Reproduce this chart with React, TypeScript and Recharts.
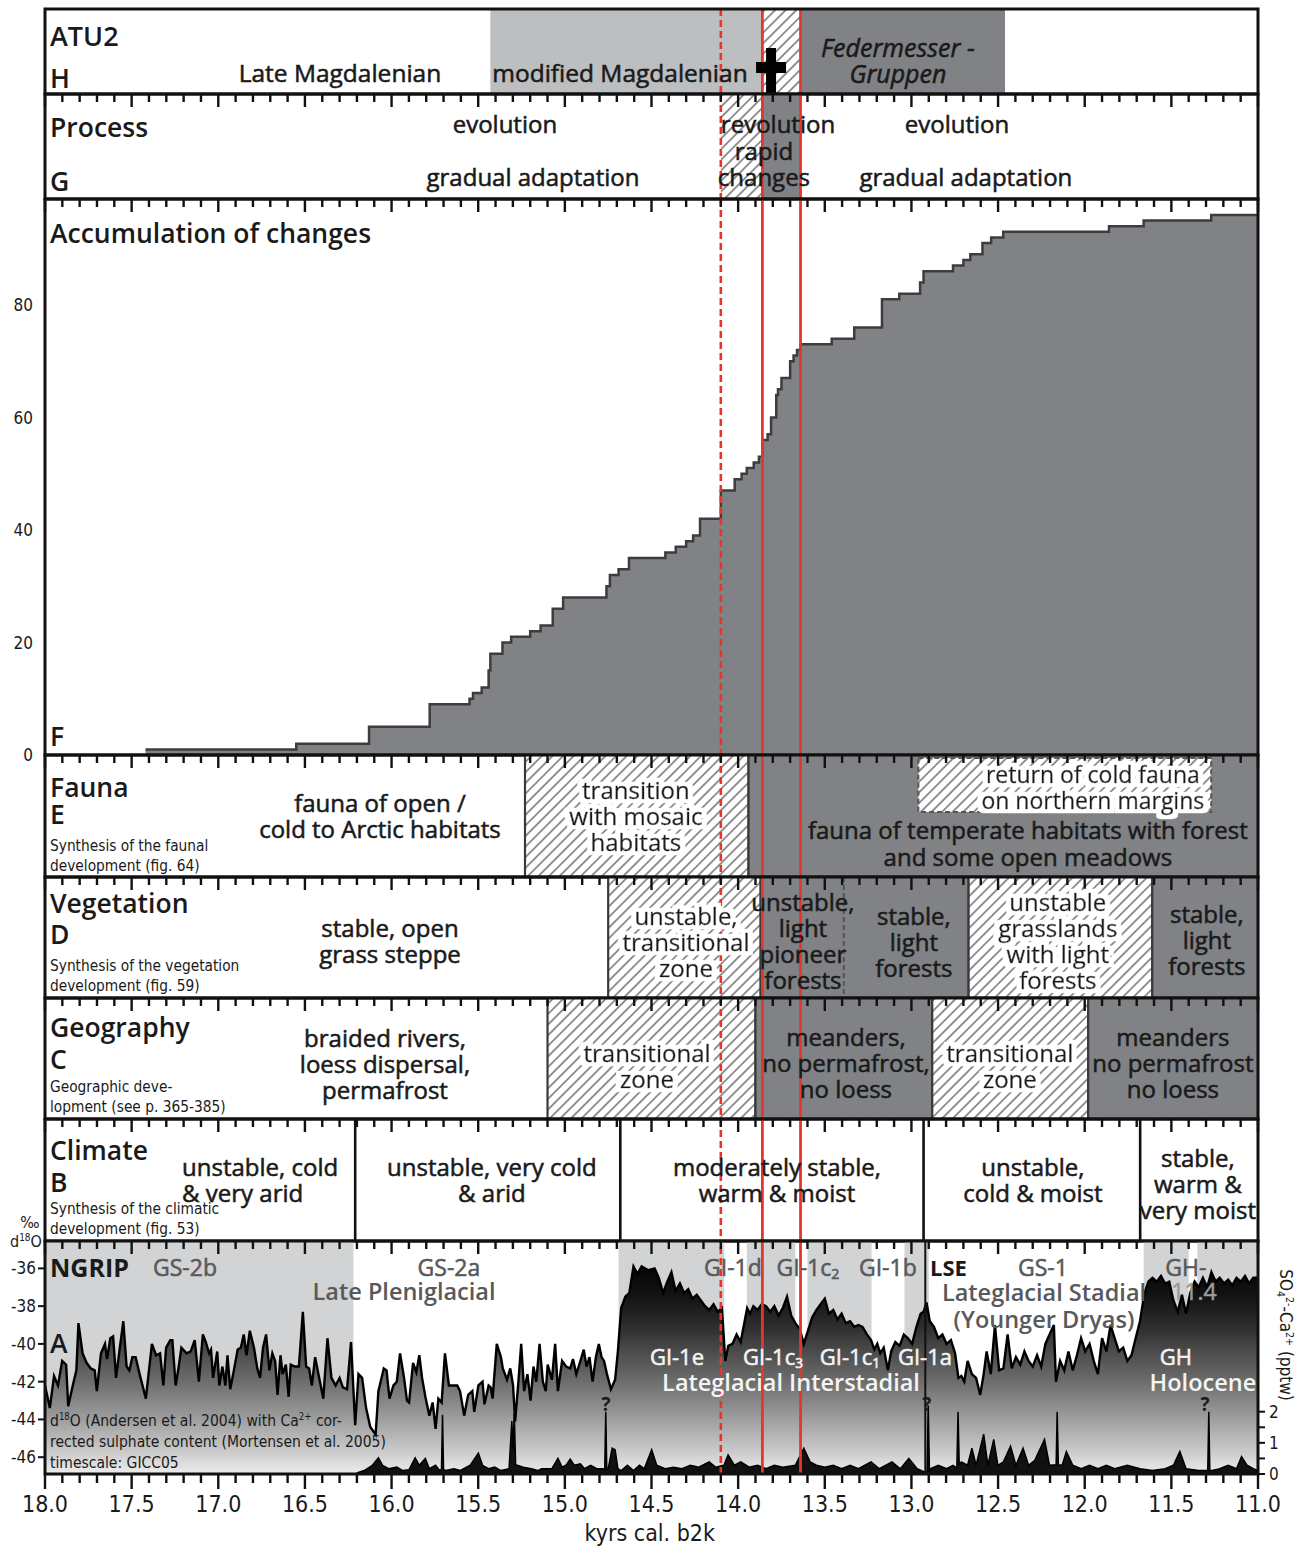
import React from 'react'
import { ComposedChart, Area, XAxis, YAxis, ReferenceArea, ReferenceLine, ReferenceDot } from 'recharts'

const W = 1295
const PAD = 14
const SANS = '"Open Sans", "Noto Sans", "DejaVu Sans", sans-serif'
const NARROW = '"Liberation Sans Narrow", "DejaVu Sans Condensed", sans-serif'
const INK = '#1a1a1a'
const GREYTXT = '#58595b'
const DARK = '#808285'
const LIGHT = '#bcbec0'
const BAND = '#d1d3d4'
const RED = '#e8352b'
const EDGE = '#3a3a3a'

// ---- x axis (kyrs cal. b2k) ----
const majorTicks = [18, 17.5, 17, 16.5, 16, 15.5, 15, 14.5, 14, 13.5, 13, 12.5, 12, 11.5, 11]
const majorLabels = ['18.0', '17.5', '17.0', '16.5', '16.0', '15.5', '15.0', '14.5', '14.0', '13.5', '13.0', '12.5', '12.0', '11.5', '11.0']
const minorTicks = Array.from({ length: 71 }, (_, i) => Math.round((11 + i * 0.1) * 10) / 10)
const spanRows = [{ kyr: 18 }, { kyr: 11 }]

// ---- markers ----
const redDashedAt = 14.1
const redSolidAt = [13.86, 13.64]

// ---- zones (kyr from, kyr to, kind) ----
const atuFrom = [15.43, 13.86, 13.64]
const atuTo = [13.86, 13.64, 12.46]
const atuKind = ['light', 'hatch', 'dark']
const processFrom = [14.1, 13.86]
const processTo = [13.86, 13.64]
const processKind = ['hatch', 'dark']
const faunaFrom = [15.23, 13.94]
const faunaTo = [13.94, 11.0]
const faunaKind = ['hatch', 'dark']
const coldFaunaFrom = 12.96
const coldFaunaTo = 11.27
const vegFrom = [14.75, 13.87, 12.67, 11.61]
const vegTo = [13.87, 12.67, 11.61, 11.0]
const vegKind = ['hatch', 'dark', 'hatch', 'dark']
const vegDashedAt = 13.39
const geoFrom = [15.1, 13.9, 12.88, 11.98]
const geoTo = [13.9, 12.88, 11.98, 11.0]
const geoKind = ['hatch', 'dark', 'hatch', 'dark']
const climateBreaks = [16.21, 14.68, 12.93, 11.68]
const ngripBandFrom = [18.0, 14.69, 13.95, 13.6, 13.04, 11.66, 11.35]
const ngripBandTo = [16.22, 14.08, 13.67, 13.23, 12.9, 11.4, 11.0]
const lseAt = 12.92

// ---- F: accumulation of changes (step starts) ----
const stepKyr = [17.42, 16.55, 16.13, 15.78, 15.55, 15.53, 15.48, 15.44, 15.43, 15.36, 15.31, 15.2, 15.14, 15.07, 15.01, 14.76, 14.74, 14.69, 14.63, 14.42, 14.36, 14.3, 14.26, 14.22, 14.1, 14.02, 13.98, 13.95, 13.91, 13.88, 13.86, 13.83, 13.81, 13.78, 13.77, 13.75, 13.7, 13.68, 13.66, 13.64, 13.46, 13.33, 13.17, 13.07, 12.95, 12.93, 12.76, 12.7, 12.66, 12.59, 12.54, 12.47, 11.86, 11.66, 11.27, 11.0]
const stepCount = [1, 2, 5, 9, 10, 11, 12, 15, 18, 20, 21, 22, 23, 26, 28, 30, 32, 33, 35, 36, 37, 38, 39, 42, 47, 49, 50, 51, 52, 53, 56, 57, 60, 64, 65, 67, 70, 71, 72, 73, 74, 76, 81, 82, 84, 86, 87, 88, 89, 91, 92, 93, 94, 95, 96, 96]
const accTicks = [0, 20, 40, 60, 80]

// ---- A: NGRIP d18O (kyr, permil) ----
const d18oSeries: [number, number][] = [
  [18.0, -42.2], [17.972, -43.4], [17.948, -41.7], [17.925, -42.2], [17.901, -40.9], [17.878, -41.1], [17.866, -43.3], [17.842, -42.3],
  [17.819, -41.4], [17.807, -38.9], [17.783, -40.5], [17.76, -41.0], [17.736, -41.3], [17.713, -41.4], [17.701, -42.5], [17.677, -40.5],
  [17.654, -40.0], [17.642, -40.8], [17.623, -39.7], [17.607, -39.6], [17.59, -41.8], [17.571, -40.4], [17.548, -38.8], [17.529, -41.2],
  [17.513, -41.4], [17.496, -40.7], [17.477, -40.7], [17.454, -41.6], [17.418, -42.9], [17.383, -40.0], [17.359, -40.6], [17.336, -40.5],
  [17.317, -42.2], [17.301, -40.2], [17.277, -39.8], [17.265, -39.8], [17.246, -42.2], [17.23, -41.3], [17.213, -40.2], [17.183, -40.5],
  [17.159, -40.4], [17.136, -39.8], [17.112, -42.0], [17.089, -39.5], [17.072, -39.9], [17.053, -40.5], [17.042, -40.3], [17.03, -41.8],
  [17.006, -40.4], [16.994, -42.2], [16.976, -41.2], [16.959, -42.2], [16.947, -40.6], [16.931, -42.4], [16.912, -41.5], [16.888, -40.3],
  [16.87, -40.2], [16.853, -39.5], [16.837, -40.6], [16.818, -39.3], [16.794, -40.2], [16.775, -41.3], [16.759, -41.8], [16.742, -40.2],
  [16.724, -39.5], [16.705, -41.4], [16.688, -40.5], [16.672, -40.9], [16.658, -42.7], [16.641, -40.6], [16.629, -41.6], [16.61, -41.1],
  [16.594, -42.8], [16.582, -41.1], [16.559, -41.2], [16.535, -41.2], [16.512, -38.3], [16.493, -41.2], [16.476, -41.3], [16.46, -42.2],
  [16.441, -40.7], [16.422, -41.6], [16.394, -42.9], [16.37, -39.7], [16.347, -41.8], [16.323, -42.2], [16.3, -41.8], [16.281, -42.3],
  [16.257, -42.4], [16.234, -39.9], [16.21, -44.3], [16.191, -41.6], [16.17, -41.8], [16.147, -43.4], [16.123, -44.4], [16.092, -44.8],
  [16.076, -42.5], [16.045, -41.3], [16.029, -41.4], [16.012, -42.9], [15.989, -42.2], [15.97, -42.0], [15.951, -40.5], [15.928, -41.8],
  [15.911, -43.0], [15.899, -43.1], [15.876, -41.0], [15.857, -41.5], [15.84, -40.6], [15.824, -41.8], [15.805, -42.8], [15.782, -43.8],
  [15.763, -43.1], [15.746, -44.5], [15.73, -42.9], [15.711, -43.1], [15.692, -40.5], [15.669, -42.2], [15.645, -42.2], [15.621, -42.2],
  [15.605, -42.5], [15.581, -43.8], [15.558, -42.7], [15.534, -42.5], [15.523, -43.6], [15.499, -42.2], [15.475, -42.0], [15.464, -43.2],
  [15.452, -42.7], [15.44, -42.2], [15.428, -42.3], [15.417, -42.9], [15.393, -40.0], [15.369, -40.7], [15.358, -41.3], [15.334, -41.9],
  [15.315, -41.3], [15.299, -42.2], [15.287, -44.1], [15.268, -42.0], [15.252, -40.0], [15.235, -42.5], [15.216, -41.6], [15.198, -43.0],
  [15.181, -41.2], [15.165, -42.0], [15.146, -40.0], [15.127, -42.0], [15.11, -42.5], [15.099, -41.1], [15.075, -41.9], [15.056, -40.0],
  [15.04, -42.5], [15.016, -40.9], [14.993, -41.2], [14.969, -41.3], [14.953, -40.8], [14.934, -41.6], [14.91, -40.9], [14.891, -40.3],
  [14.875, -41.2], [14.858, -40.7], [14.84, -42.0], [14.821, -40.7], [14.804, -40.0], [14.788, -40.7], [14.774, -40.9], [14.757, -41.6],
  [14.734, -42.4], [14.71, -41.9], [14.694, -40.4], [14.675, -38.1], [14.651, -37.5], [14.628, -37.3], [14.604, -35.9], [14.581, -36.3],
  [14.557, -35.9], [14.518, -36.1], [14.482, -36.0], [14.458, -36.5], [14.433, -37.3], [14.409, -36.7], [14.385, -36.2], [14.361, -37.2],
  [14.336, -36.8], [14.312, -37.3], [14.288, -37.1], [14.264, -37.6], [14.239, -37.4], [14.215, -37.7], [14.191, -38.0], [14.167, -38.2],
  [14.142, -37.9], [14.118, -38.3], [14.094, -38.1], [14.074, -40.9], [14.057, -40.1], [14.033, -40.0], [14.009, -39.5], [13.985, -39.9],
  [13.973, -39.3], [13.948, -38.1], [13.931, -38.4], [13.912, -38.0], [13.888, -38.2], [13.864, -37.9], [13.839, -38.0], [13.815, -38.3],
  [13.791, -38.0], [13.767, -38.5], [13.742, -38.1], [13.718, -37.5], [13.694, -38.5], [13.67, -38.9], [13.645, -39.2], [13.621, -40.0],
  [13.597, -39.3], [13.573, -38.6], [13.548, -38.2], [13.524, -37.9], [13.5, -37.6], [13.476, -38.4], [13.451, -38.2], [13.427, -38.7],
  [13.403, -38.4], [13.379, -38.9], [13.354, -38.8], [13.33, -39.1], [13.306, -39.0], [13.282, -39.1], [13.257, -39.5], [13.233, -39.8],
  [13.214, -40.3], [13.197, -40.0], [13.18, -40.5], [13.16, -40.2], [13.136, -41.4], [13.117, -40.4], [13.093, -39.9], [13.068, -40.1],
  [13.044, -39.5], [13.02, -39.7], [12.996, -40.0], [12.971, -39.1], [12.947, -38.4], [12.93, -38.3], [12.913, -37.8], [12.894, -38.8],
  [12.87, -39.1], [12.845, -39.7], [12.821, -39.5], [12.797, -40.0], [12.772, -39.8], [12.748, -40.5], [12.729, -41.8], [12.712, -41.7],
  [12.695, -42.0], [12.676, -40.9], [12.651, -41.6], [12.627, -41.8], [12.603, -42.7], [12.583, -41.6], [12.566, -40.4], [12.542, -41.6],
  [12.518, -39.0], [12.494, -41.4], [12.469, -41.3], [12.445, -39.5], [12.421, -41.3], [12.397, -40.7], [12.372, -41.1], [12.348, -40.4],
  [12.324, -40.9], [12.3, -41.2], [12.275, -40.6], [12.251, -41.2], [12.227, -40.0], [12.203, -39.5], [12.178, -39.0], [12.166, -42.0],
  [12.142, -40.9], [12.118, -41.4], [12.094, -40.4], [12.069, -41.4], [12.045, -40.6], [12.021, -39.7], [11.997, -40.4], [11.972, -40.0],
  [11.948, -40.9], [11.924, -41.6], [11.9, -39.7], [11.875, -40.4], [11.851, -39.0], [11.827, -39.7], [11.803, -40.4], [11.778, -40.2],
  [11.754, -40.9], [11.73, -40.6], [11.706, -39.7], [11.681, -38.8], [11.657, -37.4], [11.633, -36.7], [11.609, -36.5], [11.584, -36.7],
  [11.56, -36.4], [11.536, -36.8], [11.512, -36.7], [11.488, -37.7], [11.463, -38.3], [11.439, -37.4], [11.415, -38.4], [11.391, -37.3],
  [11.366, -36.7], [11.342, -37.0], [11.318, -36.5], [11.293, -37.0], [11.269, -36.2], [11.245, -36.7], [11.221, -36.5], [11.196, -36.8],
  [11.172, -36.6], [11.148, -36.9], [11.124, -36.5], [11.099, -36.7], [11.075, -36.4], [11.051, -36.8], [11.027, -36.5], [11.0, -36.5],
]

// ---- A: Ca-corrected sulphate (kyr, pptw) ----
const sulphateSeries: [number, number][] = [
  [16.201, 0.03], [16.158, 0.11], [16.111, 0.28], [16.076, 0.52], [16.052, 0.28], [16.017, 0.17], [15.97, 0.22], [15.935, 0.11],
  [15.899, 0.14], [15.864, 0.52], [15.84, 0.28], [15.805, 0.5], [15.782, 0.17], [15.746, 0.28], [15.723, 0.11], [15.712, 0.15],
  [15.706, 1.9], [15.7, 0.15], [15.687, 0.11], [15.64, 0.17], [15.605, 0.11], [15.546, 0.28], [15.499, 0.67], [15.475, 0.28],
  [15.44, 0.17], [15.405, 0.22], [15.369, 0.11], [15.322, 0.17], [15.306, 1.7], [15.299, 0.8], [15.292, 1.94], [15.284, 0.3],
  [15.275, 0.28], [15.24, 0.22], [15.193, 0.17], [15.157, 0.11], [15.134, 0.17], [15.099, 0.17], [15.075, 0.17], [15.04, 0.5],
  [15.016, 0.22], [14.993, 0.28], [14.969, 0.48], [14.946, 0.28], [14.91, 0.33], [14.887, 0.17], [14.851, 0.28], [14.816, 0.17],
  [14.781, 0.17], [14.77, 0.15], [14.764, 2.0], [14.758, 0.17], [14.75, 0.17], [14.727, 0.83], [14.71, 0.78], [14.694, 0.17],
  [14.675, 0.11], [14.639, 0.28], [14.604, 0.11], [14.569, 0.28], [14.542, 0.17], [14.499, 0.78], [14.47, 0.28], [14.421, 0.17],
  [14.373, 0.22], [14.324, 0.17], [14.276, 0.28], [14.227, 0.22], [14.167, 0.39], [14.13, 0.22], [14.082, 0.28], [14.058, 0.61],
  [14.021, 0.28], [13.985, 0.39], [13.936, 0.22], [13.888, 0.28], [13.839, 0.17], [13.791, 0.28], [13.742, 0.22], [13.67, 0.28],
  [13.621, 0.83], [13.585, 0.39], [13.548, 0.28], [13.5, 0.22], [13.451, 0.28], [13.403, 0.17], [13.354, 0.28], [13.306, 0.17],
  [13.233, 0.39], [13.185, 0.17], [13.112, 0.39], [13.064, 0.17], [13.015, 0.5], [12.967, 0.17], [12.918, 0.05], [12.91, 0.1],
  [12.903, 2.2], [12.896, 0.1], [12.889, 0.17], [12.845, 0.28], [12.797, 0.17], [12.76, 0.28], [12.738, 0.2], [12.731, 2.0],
  [12.724, 0.3], [12.712, 0.39], [12.676, 0.28], [12.651, 0.83], [12.627, 0.28], [12.583, 1.28], [12.559, 0.28], [12.525, 1.11],
  [12.501, 0.28], [12.469, 0.39], [12.428, 0.89], [12.397, 0.28], [12.356, 0.83], [12.324, 0.28], [12.288, 0.44], [12.232, 1.11],
  [12.203, 0.28], [12.165, 0.3], [12.159, 2.0], [12.152, 0.3], [12.13, 0.28], [12.106, 0.72], [12.069, 0.28], [12.021, 0.17],
  [11.972, 0.28], [11.924, 0.17], [11.875, 0.28], [11.827, 0.17], [11.754, 0.28], [11.681, 0.17], [11.609, 0.11], [11.536, 0.17],
  [11.488, 0.28], [11.451, 0.72], [11.415, 0.17], [11.342, 0.11], [11.29, 0.11], [11.284, 2.0], [11.278, 0.11], [11.264, 0.11],
  [11.221, 0.17], [11.172, 0.28], [11.124, 0.17], [11.095, 0.56], [11.063, 0.28], [11.027, 0.17], [11.0, 0.11],
]
const d18oTicks = [-46, -44, -42, -40, -38, -36]
const so4Ticks = [0, 0.5, 1, 1.5, 2]
const so4Labels = ['0', '', '1', '', '2']

const stepRows = stepKyr.map((k, i) => ({ kyr: k, acc: stepCount[i] }))

const ngripRows = (() => {
  const m = new Map<number, any>()
  d18oSeries.forEach(([k, v]) => m.set(k, { ...(m.get(k) || { kyr: k }), d18o: v }))
  sulphateSeries.forEach(([k, v]) => m.set(k, { ...(m.get(k) || { kyr: k }), so4: v }))
  return Array.from(m.values()).sort((a, b) => b.kyr - a.kyr)
})()

// ---- helpers ----
type Seg = { t: string; v?: 'sup' | 'sub' }
type Line = string | Seg[]

function segs(ln: Line, size: number) {
  if (typeof ln === 'string') return ln
  let shift = 0
  return ln.map((s, j) => {
    const target = s.v === 'sup' ? -size * 0.38 : s.v === 'sub' ? size * 0.15 : 0
    const dy = target - shift
    shift = target
    return (
      <tspan key={j} dy={dy} fontSize={s.v ? size * 0.62 : size}>
        {s.t}
      </tspan>
    )
  })
}

function t(key: string, x: number, y: number, lines: Line[], o: any = {}) {
  const size = o.size ?? 24
  const lh = o.lh ?? 26
  const weight = o.weight ?? 400
  const color = o.color ?? INK
  const heavy = o.heavy ?? (weight < 600 && !o.font)
  return (
    <ReferenceDot
      key={key}
      x={x}
      y={y}
      yAxisId='px'
      r={0}
      ifOverflow='visible'
      zIndex={2000}
      shape={(p: any) => (
        <text
          x={p.cx}
          y={p.cy}
          fontFamily={o.font ?? SANS}
          fontSize={size}
          fontWeight={weight}
          fontStyle={o.italic ? 'italic' : 'normal'}
          textAnchor={o.anchor ?? 'middle'}
          transform={o.rotate ? `rotate(${o.rotate} ${p.cx} ${p.cy})` : undefined}
          filter={o.halo ? 'url(#halo)' : undefined}
          fill={color}
          stroke={heavy ? color : 'none'}
          strokeWidth={heavy ? 0.55 : 0}
        >
          {lines.map((ln, i) => (
            <tspan key={i} x={p.cx} y={p.cy + i * lh}>
              {segs(ln, size)}
            </tspan>
          ))}
        </text>
      )}
    />
  )
}

const TITLE = { size: 26.5, weight: 600, anchor: 'start' }
const NOTE = { size: 15.3, font: NARROW, anchor: 'start', lh: 20 }
const GREY = { size: 23, color: GREYTXT }
const GREYBOLD = { size: 23.5, weight: 600, color: GREYTXT }
const WHITE = { size: 22, color: '#f4f4f4' }
const WHITEBOLD = { size: 23.5, weight: 600, color: '#f4f4f4' }
const LEFT = 17.971

const fillOf = (k: string) => (k === 'dark' ? DARK : k === 'light' ? LIGHT : k === 'hatch' ? 'url(#hatch)' : k === 'band' ? BAND : '#fff')

function zones(id: string, from: number[], to: number[], kinds: string[], h: number, edge?: string) {
  return from.map((f, i) => (
    <ReferenceArea
      key={id + i}
      yAxisId='px'
      x1={f}
      x2={to[i]}
      y1={0}
      y2={h}
      fill={fillOf(kinds[i])}
      fillOpacity={1}
      stroke={edge ?? 'none'}
      strokeWidth={edge ? 2.2 : 0}
      zIndex={50}
    />
  ))
}

function redLines(id: string) {
  return [
    <ReferenceLine key={id + 'rd'} x={redDashedAt} yAxisId='px' stroke={RED} strokeWidth={2.6} strokeDasharray='7 4' zIndex={1300} />,
    ...redSolidAt.map((x, i) => <ReferenceLine key={id + 'rs' + i} x={x} yAxisId='px' stroke={RED} strokeWidth={2.8} zIndex={1300} />),
  ]
}

const border = (h: number) => (
  <ReferenceArea key='border' yAxisId='px' x1={18} x2={11} y1={0} y2={h} fill='none' stroke='#111' strokeWidth={3} zIndex={1400} />
)

const pxAxis = (h: number) => <YAxis key='pxy' yAxisId='px' hide type='number' domain={[0, h]} reversed allowDataOverflow />

const topTick = (p: any) => {
  const v = p.payload?.value
  const len = majorTicks.includes(v) ? 13 : 8
  return <line x1={p.x} x2={p.x} y1={p.y} y2={p.y + len} stroke='#111' strokeWidth={2.4} />
}

const bottomTick = (p: any) => {
  const v = p.payload?.value
  const mi = majorTicks.indexOf(v)
  return (
    <g>
      <line x1={p.x} x2={p.x} y1={p.y} y2={p.y + (mi >= 0 ? 15 : 9)} stroke='#111' strokeWidth={2.4} />
      {mi >= 0 && (
        <text x={p.x} y={p.y + 38} textAnchor='middle' fontFamily={NARROW} fontSize={23} fill={INK}>
          {majorLabels[mi]}
        </text>
      )}
    </g>
  )
}

const xTop = (id: any, show: boolean) => (
  <XAxis
    key={'xt' + id}
    xAxisId={id}
    type='number'
    dataKey='kyr'
    domain={[11, 18]}
    reversed
    allowDataOverflow
    orientation='top'
    mirror
    height={1}
    ticks={minorTicks}
    interval={0}
    tickSize={0}
    tickMargin={0}
    axisLine={false}
    tickLine={false}
    tick={show ? topTick : false}
  />
)

function Frame({ top, bottom, data, children, left = 45, right = 37, mt = PAD, mb = PAD, extra = 0 }: any) {
  const h = bottom - top
  return (
    <div style={{ position: 'absolute', left: 0, top: top - mt }}>
      <ComposedChart width={W} height={h + mt + mb + extra} margin={{ top: mt, bottom: mb, left, right }} data={data ?? spanRows}>
        {children}
      </ComposedChart>
    </div>
  )
}

export default function App() {
  const hH = 85, hG = 105, hF = 556, hE = 122, hD = 121, hC = 121, hB = 122, hA = 233
  return (
    <div style={{ position: 'absolute', left: 0, top: 0, width: W, height: 1549, background: '#fff', overflow: 'hidden' }}>
      <svg width={0} height={0} style={{ position: 'absolute' }}>
        <defs>
          <pattern id='hatch' width={7.5} height={7.5} patternUnits='userSpaceOnUse' patternTransform='rotate(45)'>
            <rect width={7.5} height={7.5} fill='#fff' />
            <line x1={3.75} y1={0} x2={3.75} y2={7.5} stroke='#8d8d8d' strokeWidth={1.9} />
          </pattern>
          <linearGradient id='ngripFill' x1='0' y1='0' x2='0' y2='1'>
            <stop offset='0' stopColor='#050505' />
            <stop offset='0.15' stopColor='#141414' />
            <stop offset='0.3' stopColor='#303030' />
            <stop offset='0.45' stopColor='#555555' />
            <stop offset='0.55' stopColor='#6c6c6c' />
            <stop offset='0.72' stopColor='#9a9a9a' />
            <stop offset='0.9' stopColor='#cdcdcd' />
            <stop offset='1' stopColor='#ededed' />
          </linearGradient>
          <filter id='halo' x='-8%' y='-25%' width='116%' height='150%'>
            <feMorphology in='SourceAlpha' operator='dilate' radius='5 4' result='grown' />
            <feFlood floodColor='#ffffff' result='white' />
            <feComposite in='white' in2='grown' operator='in' result='bg' />
            <feMerge>
              <feMergeNode in='bg' />
              <feMergeNode in='SourceGraphic' />
            </feMerge>
          </filter>
        </defs>
      </svg>

      {/* H: ATU2 */}
      <Frame top={9} bottom={94}>
        {pxAxis(hH)}
        {zones('h', atuFrom, atuTo, atuKind, hH)}
        {redLines('h')}
        {border(hH)}
        {xTop(0, false)}
        <ReferenceDot
          key='cross'
          x={13.81}
          y={39}
          yAxisId='px'
          r={0}
          ifOverflow='visible'
          zIndex={2000}
          shape={(p: any) => (
            <g fill='#000'>
              <rect x={p.cx - 5} y={p.cy} width={10} height={48} />
              <rect x={p.cx - 15} y={p.cy + 14} width={30} height={11} />
            </g>
          )}
        />
        {t('h1', LEFT, 37, ['ATU2'], { ...TITLE, size: 27 })}
        {t('h2', LEFT, 79, ['H'], TITLE)}
        {t('h3', 16.298, 73, ['Late Magdalenian'], { size: 24.5 })}
        {t('h4', 14.682, 73, ['modified Magdalenian'], { size: 24.5 })}
        {t('h5', 13.078, 48, ['Federmesser -', 'Gruppen'], { size: 25, italic: true })}
      </Frame>

      {/* G: Process */}
      <Frame top={94} bottom={199}>
        {pxAxis(hG)}
        {zones('g', processFrom, processTo, processKind, hG)}
        {redLines('g')}
        {border(hG)}
        {xTop(0, true)}
        {t('g1', LEFT, 43, ['Process'], TITLE)}
        {t('g2', LEFT, 97, ['G'], TITLE)}
        {t('g3', 15.346, 39, ['evolution'])}
        {t('g4', 15.184, 92, ['gradual adaptation'])}
        {t('g5', 13.77, 39, ['revolution'])}
        {t('g6', 13.851, 66, ['rapid', 'changes'])}
        {t('g7', 12.737, 39, ['evolution'])}
        {t('g8', 12.686, 92, ['gradual adaptation'])}
      </Frame>

      {/* F: Accumulation of changes */}
      <Frame top={199} bottom={755} data={stepRows} left={0}>
        {pxAxis(hF)}
        <YAxis
          yAxisId={0}
          width={45}
          type='number'
          domain={[0, 98.84]}
          ticks={accTicks}
          allowDataOverflow
          axisLine={false}
          tickLine={false}
          tickSize={6}
          tickMargin={6}
          tick={{ fontFamily: NARROW, fontSize: 17, fill: INK }}
        />
        <Area
          yAxisId={0}
          type='stepAfter'
          dataKey='acc'
          stroke='#3d3d3d'
          strokeWidth={2.5}
          fill={DARK}
          fillOpacity={1}
          isAnimationActive={false}
          dot={false}
          activeDot={false}
        />
        {redLines('f')}
        {border(hF)}
        {xTop(0, true)}
        {t('f1', LEFT, 44, ['Accumulation of changes'], TITLE)}
        {t('f2', LEFT, 547, ['F'], TITLE)}
      </Frame>

      {/* E: Fauna */}
      <Frame top={755} bottom={877}>
        {pxAxis(hE)}
        {zones('e', faunaFrom, faunaTo, faunaKind, hE, EDGE)}
        <ReferenceArea
          key='coldbox'
          yAxisId='px'
          x1={coldFaunaFrom}
          x2={coldFaunaTo}
          y1={3}
          y2={57}
          fill='url(#hatch)'
          fillOpacity={1}
          stroke='#555'
          strokeWidth={2}
          strokeDasharray='5 3'
          zIndex={60}
        />
        {redLines('e')}
        {border(hE)}
        {xTop(0, true)}
        {t('e1', LEFT, 42, ['Fauna'], TITLE)}
        {t('e2', LEFT, 69, ['E'], TITLE)}
        {t('e3', LEFT, 96, ['Synthesis of the faunal', 'development (fig. 64)'], NOTE)}
        {t('e4', 16.067, 57, ['fauna of open /', 'cold to Arctic habitats'])}
        {t('e5', 14.59, 44, ['transition', 'with mosaic', 'habitats'], { halo: true })}
        {t('e6', 11.953, 28, ['return of cold fauna', 'on northern margins'], { size: 23, halo: true })}
        {t('e7', 12.328, 84, ['fauna of temperate habitats with forest', 'and some open meadows'], { lh: 27 })}
      </Frame>

      {/* D: Vegetation */}
      <Frame top={877} bottom={998}>
        {pxAxis(hD)}
        {zones('d', vegFrom, vegTo, vegKind, hD, EDGE)}
        <ReferenceLine key='vegdash' x={vegDashedAt} yAxisId='px' stroke='#555' strokeWidth={2} strokeDasharray='5 3' />
        {redLines('d')}
        {border(hD)}
        {xTop(0, true)}
        {t('d1', LEFT, 36, ['Vegetation'], TITLE)}
        {t('d2', LEFT, 67, ['D'], TITLE)}
        {t('d3', LEFT, 94, ['Synthesis of the vegetation', 'development (fig. 59)'], NOTE)}
        {t('d4', 16.009, 60, ['stable, open', 'grass steppe'])}
        {t('d5', 14.301, 48, ['unstable,', 'transitional', 'zone'], { halo: true })}
        {t('d6', 13.626, 34, ['unstable,', 'light', 'pioneer', 'forests'])}
        {t('d7', 12.986, 48, ['stable,', 'light', 'forests'])}
        {t('d8', 12.155, 34, ['unstable', 'grasslands', 'with light', 'forests'], { halo: true })}
        {t('d9', 11.295, 46, ['stable,', 'light', 'forests'])}
      </Frame>

      {/* C: Geography */}
      <Frame top={998} bottom={1119}>
        {pxAxis(hC)}
        {zones('c', geoFrom, geoTo, geoKind, hC, EDGE)}
        {redLines('c')}
        {border(hC)}
        {xTop(0, true)}
        {t('c1', LEFT, 39, ['Geography'], TITLE)}
        {t('c2', LEFT, 71, ['C'], TITLE)}
        {t('c3', LEFT, 94, ['Geographic deve-', 'lopment (see p. 365-385)'], NOTE)}
        {t('c4', 16.038, 49, ['braided rivers,', 'loess dispersal,', 'permafrost'])}
        {t('c5', 14.526, 64, ['transitional', 'zone'], { halo: true })}
        {t('c6', 13.378, 48, ['meanders,', 'no permafrost,', 'no loess'])}
        {t('c7', 12.432, 64, ['transitional', 'zone'], { halo: true })}
        {t('c8', 11.491, 48, ['meanders', 'no permafrost', 'no loess'])}
      </Frame>

      {/* B: Climate */}
      <Frame top={1119} bottom={1241}>
        {pxAxis(hB)}
        {climateBreaks.map((x, i) => (
          <ReferenceLine key={'cb' + i} x={x} yAxisId='px' stroke='#111' strokeWidth={2.6} />
        ))}
        {redLines('b')}
        {border(hB)}
        {xTop(0, true)}
        {t('b1', LEFT, 41, ['Climate'], TITLE)}
        {t('b2', LEFT, 73, ['B'], TITLE)}
        {t('b3', LEFT, 95, ['Synthesis of the climatic', 'development (fig. 53)'], NOTE)}
        {t('b4', 17.209, 57, ['unstable, cold', '& very arid'], { anchor: 'start' })}
        {t('b5', 15.421, 57, ['unstable, very cold', '& arid'])}
        {t('b6', 13.776, 57, ['moderately stable,', 'warm & moist'])}
        {t('b7', 12.299, 57, ['unstable,', 'cold & moist'])}
        {t('b8', 11.347, 48, ['stable,', 'warm &', 'very moist'])}
      </Frame>

      {/* A: NGRIP */}
      <Frame top={1241} bottom={1474} data={ngripRows} left={0} right={0} mt={36} mb={15} extra={60}>
        {pxAxis(hA)}
        <YAxis
          yAxisId='d'
          orientation='left'
          width={45}
          type='number'
          domain={[-46.89, -34.55]}
          ticks={d18oTicks}
          allowDataOverflow
          axisLine={false}
          tickLine={{ stroke: '#111', strokeWidth: 2 }}
          tickSize={7}
          tickMargin={2}
          tick={{ fontFamily: NARROW, fontSize: 17, fill: INK }}
        />
        <YAxis
          yAxisId='s'
          orientation='right'
          width={37}
          type='number'
          domain={[0, 7.48]}
          ticks={so4Ticks}
          allowDataOverflow
          axisLine={false}
          tickLine={{ stroke: '#111', strokeWidth: 2 }}
          tickSize={7}
          tickMargin={4}
          tickFormatter={(v: number) => so4Labels[so4Ticks.indexOf(v)] ?? ''}
          tick={{ fontFamily: NARROW, fontSize: 17, fill: INK }}
        />
        {zones('a', ngripBandFrom, ngripBandTo, ngripBandFrom.map(() => 'band'), hA)}
        <Area
          yAxisId='d'
          type='linear'
          dataKey='d18o'
          baseValue='dataMin'
          connectNulls
          stroke='#000'
          strokeWidth={2.4}
          fill='url(#ngripFill)'
          fillOpacity={1}
          isAnimationActive={false}
          dot={false}
          activeDot={false}
        />
        <Area
          yAxisId='s'
          type='linear'
          dataKey='so4'
          connectNulls
          stroke='#000'
          strokeWidth={1.5}
          fill='#111'
          fillOpacity={1}
          isAnimationActive={false}
          dot={false}
          activeDot={false}
        />
        <ReferenceLine key='lse' x={lseAt} yAxisId='px' stroke='#111' strokeWidth={2} />
        {redLines('a')}
        {border(hA)}
        <XAxis
          key='xb'
          xAxisId={0}
          type='number'
          dataKey='kyr'
          domain={[11, 18]}
          reversed
          allowDataOverflow
          orientation='bottom'
          height={60}
          ticks={minorTicks}
          interval={0}
          tickSize={0}
          tickMargin={0}
          axisLine={false}
          tickLine={false}
          tick={bottomTick}
        />
        {xTop('t', true)}
        {t('a1', LEFT, 36, ['NGRIP'], { size: 25, weight: 700, anchor: 'start' })}
        {t('a2', LEFT, 112, ['A'], TITLE)}
        {t('a3', 17.192, 35, ['GS-2b'], GREY)}
        {t('a4', 15.669, 35, ['GS-2a'], GREY)}
        {t('a5', 15.928, 59, ['Late Pleniglacial'], GREYBOLD)}
        {t('a6', 14.03, 35, ['GI-1d'], GREY)}
        {t('a7', 13.597, 35, [[{ t: 'GI-1c' }, { t: '2', v: 'sub' }]], GREY)}
        {t('a8', 13.136, 35, ['GI-1b'], GREY)}
        {t('a9', 12.893, 35, ['LSE'], { size: 22, weight: 700, anchor: 'start' })}
        {t('a10', 12.241, 35, ['GS-1'], GREY)}
        {t('a11', 12.235, 60, ['Lateglacial Stadial', '(Younger Dryas)'], { ...GREYBOLD, lh: 27 })}
        {t('a12', 11.416, 35, ['GH-'], GREY)}
        {t('a13', 11.37, 59, ['11.4'], { ...GREY, color: '#9b9b9b' })}
        {t('a14', 14.353, 124, ['GI-1e'], WHITE)}
        {t('a15', 13.799, 124, [[{ t: 'GI-1c' }, { t: '3', v: 'sub' }]], WHITE)}
        {t('a16', 13.355, 124, [[{ t: 'GI-1c' }, { t: '1', v: 'sub' }]], WHITE)}
        {t('a17', 12.922, 124, ['GI-1a'], WHITE)}
        {t('a18', 13.695, 150, ['Lateglacial Interstadial'], WHITEBOLD)}
        {t('a19', 11.474, 124, ['GH'], WHITE)}
        {t('a20', 11.318, 150, ['Holocene'], WHITEBOLD)}
        {t('a21', 14.763, 170, ['?'], { size: 19, weight: 700 })}
        {t('a22', 12.911, 170, ['?'], { size: 19, weight: 700 })}
        {t('a23', 11.306, 170, ['?'], { size: 19, weight: 700 })}
        {t(
          'a24',
          LEFT,
          185,
          [
            [{ t: 'd' }, { t: '18', v: 'sup' }, { t: 'O (Andersen et al. 2004) with Ca' }, { t: '2+', v: 'sup' }, { t: ' cor-' }],
            'rected sulphate content (Mortensen et al. 2005)',
            'timescale: GICC05',
          ],
          { font: NARROW, size: 15.5, anchor: 'start', lh: 21 }
        )}
        {t('ax1', 14.51, 300, ['kyrs cal. b2k'], { font: NARROW, size: 23 })}
        {t('ax2', 18.087, -13, ['‰'], { font: NARROW, size: 16 })}
        {t('ax3', 18.11, 6, [[{ t: 'd' }, { t: '18', v: 'sup' }, { t: 'O' }]], { font: NARROW, size: 16 })}
        {t(
          'ax4',
          10.873,
          94,
          [[{ t: 'SO' }, { t: '4', v: 'sub' }, { t: '2-', v: 'sup' }, { t: '-Ca' }, { t: '2+', v: 'sup' }, { t: ' (pptw)' }]],
          { font: NARROW, size: 17, rotate: 90 }
        )}
      </Frame>
    </div>
  )
}
